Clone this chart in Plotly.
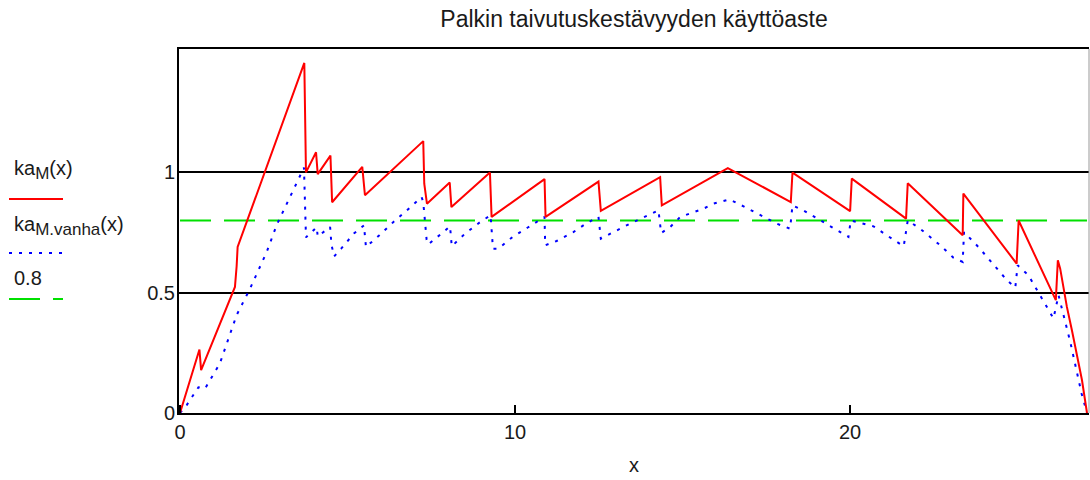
import plotly.graph_objects as go

# ---- data ----
ka_M_x = [0, 0.58, 0.63, 1.64, 1.69, 1.72, 3.71, 3.73, 3.76, 4.06, 4.11, 4.49, 4.54,
          5.44, 5.52, 7.26, 7.29, 7.37, 8.05, 8.10, 9.25, 9.30, 10.88, 10.91, 12.49,
          12.56, 14.33, 14.38, 16.35, 18.23, 18.28, 20.0, 20.05, 21.67, 21.72, 23.36,
          23.38, 24.97, 25.03, 26.14, 26.2, 26.27, 26.47, 26.62, 26.77, 26.92, 27.07]
ka_M_y = [0, 0.264, 0.178, 0.524, 0.61, 0.69, 1.455, 1.227, 1.0, 1.084, 0.993, 1.07, 0.876,
          1.023, 0.905, 1.13, 0.953, 0.87, 0.958, 0.856, 1.0, 0.815, 0.972, 0.815, 0.962,
          0.840, 0.98, 0.863, 1.018, 0.877, 0.999, 0.839, 0.974, 0.808, 0.955, 0.739,
          0.912, 0.621, 0.80, 0.469, 0.635, 0.60, 0.441, 0.344, 0.234, 0.137, 0]

ka_vanha_x = [0, 0.2, 0.55, 0.75, 1.19, 1.69, 2.09, 2.59, 2.89, 3.28, 3.70, 3.76, 3.96,
              4.08, 4.11, 4.48, 4.52, 4.60, 4.81, 5.03, 5.19, 5.49, 5.55, 5.95, 6.37,
              6.77, 7.21, 7.26, 7.29, 7.36, 7.41, 7.63, 7.86, 8.06, 8.08, 8.11, 8.51,
              8.96, 9.27, 9.34, 9.5, 9.93, 10.38, 10.88, 10.9, 11.24, 11.74, 12.16,
              12.49, 12.56, 13.43, 14.28, 14.36, 14.63, 14.93, 15.62, 15.92, 16.4,
              16.82, 17.41, 17.81, 18.21, 18.28, 18.61, 19.2, 19.6, 19.95, 20.02, 20.7,
              21.09, 21.6, 21.72, 22.09, 22.69, 23.08, 23.36, 23.40, 23.83, 24.33,
              24.68, 24.93, 25.0, 25.32, 25.62, 25.87, 26.07, 26.22, 26.57, 26.91, 27.07]
ka_vanha_y = [0, 0.033, 0.107, 0.102, 0.206, 0.407, 0.517, 0.67, 0.783, 0.9, 1.02, 0.73, 0.759,
              0.772, 0.734, 0.773, 0.70, 0.651, 0.683, 0.718, 0.746, 0.78, 0.69, 0.739, 0.794,
              0.842, 0.898, 0.877, 0.835, 0.721, 0.701, 0.725, 0.752, 0.776, 0.739, 0.693, 0.746,
              0.794, 0.822, 0.683, 0.683, 0.732, 0.771, 0.815, 0.697, 0.715, 0.752, 0.791,
              0.815, 0.725, 0.787, 0.842, 0.748, 0.773, 0.815, 0.849, 0.87, 0.888,
              0.859, 0.815, 0.787, 0.766, 0.863, 0.842, 0.794, 0.759, 0.732, 0.80, 0.776,
              0.739, 0.693, 0.80, 0.766, 0.697, 0.646, 0.628, 0.752, 0.69, 0.607,
              0.552, 0.521, 0.614, 0.573, 0.503, 0.441, 0.393, 0.49, 0.296, 0.08, 0]

limit_x = [0, 27.07]
limit_y = [0.8, 0.8]

x_ticks = [0, 10, 20]
y_ticks = [0, 0.5, 1]
y_ticktext = ["0", "0.5", "1"]

title_text = "Palkin taivutuskestävyyden käyttöaste"
SUB = "<sub><span style='font-size:17px'>%s</span></sub>"
legend_labels = ["ka" + SUB % "M" + "(x)", "ka" + SUB % "M.vanha" + "(x)", "0.8"]

FONT = "Liberation Sans, Arial, sans-serif"
TXT = "#1a1a1a"
RED = "#ff0000"
BLUE = "#0000ff"
GREEN = "#00e000"

fig = go.Figure()
fig.add_trace(go.Scatter(x=limit_x, y=limit_y, mode="lines",
                         line=dict(color=GREEN, width=2, dash="31px,13px")))
fig.add_trace(go.Scatter(x=ka_vanha_x, y=ka_vanha_y, mode="lines",
                         line=dict(color=BLUE, width=2, dash="3px,7px")))
fig.add_trace(go.Scatter(x=ka_M_x, y=ka_M_y, mode="lines",
                         line=dict(color=RED, width=2)))

W, H = 1090, 480
L, R, T, B = 179, 1, 49, 67
pw, ph = W - L - R, H - T - B

def px(xp):
    return (xp - L) / pw

def py(yp):
    return (H - B - yp) / ph

fig.update_layout(
    width=W, height=H,
    margin=dict(l=L, r=R, t=T, b=B, pad=0),
    paper_bgcolor="white", plot_bgcolor="white",
    showlegend=False,
    font=dict(family=FONT, size=20, color=TXT),
    title=dict(text=title_text, x=0.5, xref="paper", y=1 - 19 / H, yref="container",
               xanchor="center", yanchor="middle",
               font=dict(family=FONT, size=23, color=TXT)),
    xaxis=dict(range=[-0.03, 27.13], tickvals=x_ticks, ticks="inside", ticklen=8,
               tickwidth=2, tickcolor="black", showgrid=False, zeroline=False,
               showline=True, linecolor="black", linewidth=2, mirror=True,
               title=dict(text="x", standoff=16, font=dict(family=FONT, size=20, color=TXT)),
               tickfont=dict(family=FONT, size=20, color=TXT)),
    yaxis=dict(range=[0, 1.513], tickvals=y_ticks, ticktext=y_ticktext, ticks="",
               showgrid=True, gridcolor="black", gridwidth=2, zeroline=False,
               showline=True, linecolor="black", linewidth=2,
               ticklabelstandoff=-2,
               tickfont=dict(family=FONT, size=20, color=TXT)),
)

# right border (thin grey)
fig.add_shape(type="line", xref="paper", yref="paper", x0=1, x1=1, y0=0, y1=1,
              line=dict(color="#999999", width=1))

# legend on the left: label text with a line sample below
legend_text_y = [170, 226, 278]
legend_line_y = [199, 253, 299]
legend_styles = [dict(color=RED, width=2),
                 dict(color=BLUE, width=2, dash="3px,7px"),
                 dict(color=GREEN, width=2, dash="31px,13px")]
for lab, ty, ly, st in zip(legend_labels, legend_text_y, legend_line_y, legend_styles):
    fig.add_annotation(text=lab, xref="paper", yref="paper", x=px(12), y=py(ty),
                       xanchor="left", yanchor="middle", showarrow=False,
                       font=dict(family=FONT, size=20, color=TXT))
    fig.add_shape(type="line", xref="paper", yref="paper", x0=px(9), x1=px(63),
                  y0=py(ly), y1=py(ly), line=st)

fig.write_html("out.html")
